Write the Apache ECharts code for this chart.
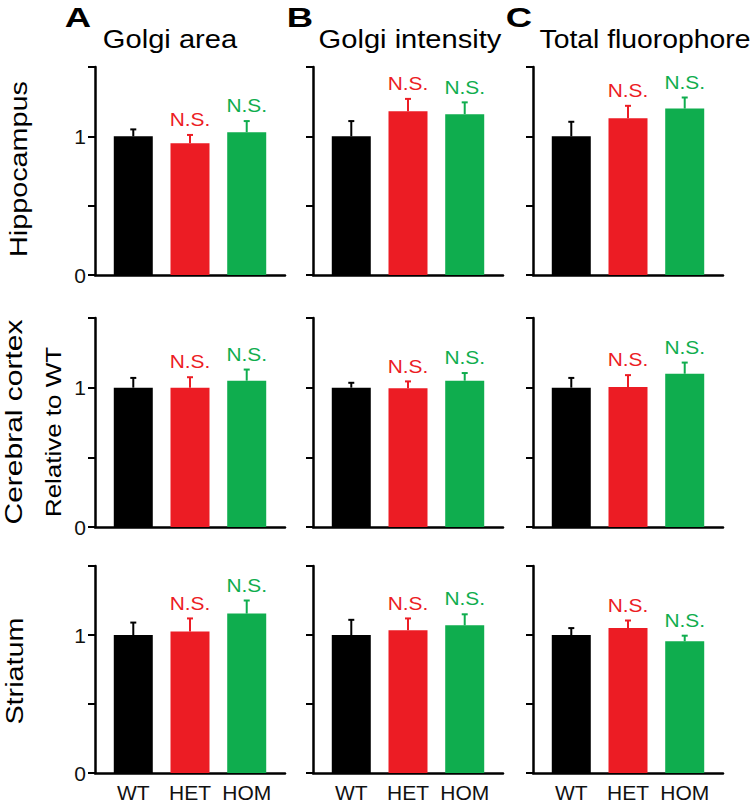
<!DOCTYPE html>
<html><head><meta charset="utf-8">
<script src="https://cdn.jsdelivr.net/npm/echarts@6/dist/echarts.min.js"></script>
<style>html,body{margin:0;padding:0;background:#fff}#c{width:755px;height:803px}</style>
</head><body><div id="c"></div>
<script>
const categories = ['WT', 'HET', 'HOM'];
const regionLabels = ['Hippocampus', 'Cerebral cortex', 'Striatum'];
const yAxisName = 'Relative to WT';
const measureTitles = ['Golgi area', 'Golgi intensity', 'Total fluorophore'];
const panelLetters = ['A', 'B', 'C'];
const yTickValues = [0, 0.5, 1, 1.5];
const yTickLabels = ['0', '', '1', ''];
const significance = ['', 'N.S.', 'N.S.'];

// Hippocampus
const hippocampusAreaMean = [1.00, 0.95, 1.03];
const hippocampusAreaSem = [0.05, 0.06, 0.08];
const hippocampusIntensityMean = [1.00, 1.18, 1.16];
const hippocampusIntensitySem = [0.11, 0.09, 0.085];
const hippocampusTotalMean = [1.00, 1.13, 1.20];
const hippocampusTotalSem = [0.105, 0.09, 0.08];
// Cerebral cortex
const cortexAreaMean = [1.00, 1.00, 1.05];
const cortexAreaSem = [0.07, 0.075, 0.08];
const cortexIntensityMean = [1.00, 0.995, 1.05];
const cortexIntensitySem = [0.035, 0.05, 0.055];
const cortexTotalMean = [1.00, 1.005, 1.10];
const cortexTotalSem = [0.07, 0.085, 0.08];
// Striatum
const striatumAreaMean = [1.00, 1.025, 1.155];
const striatumAreaSem = [0.09, 0.095, 0.095];
const striatumIntensityMean = [1.00, 1.035, 1.07];
const striatumIntensitySem = [0.11, 0.085, 0.08];
const striatumTotalMean = [1.00, 1.05, 0.955];
const striatumTotalSem = [0.05, 0.055, 0.04];

const meanRows = [
  [hippocampusAreaMean, hippocampusIntensityMean, hippocampusTotalMean],
  [cortexAreaMean, cortexIntensityMean, cortexTotalMean],
  [striatumAreaMean, striatumIntensityMean, striatumTotalMean]
];
const semRows = [
  [hippocampusAreaSem, hippocampusIntensitySem, hippocampusTotalSem],
  [cortexAreaSem, cortexIntensitySem, cortexTotalSem],
  [striatumAreaSem, striatumIntensitySem, striatumTotalSem]
];

const barColors = ['#000000', '#ec1c24', '#0fad4e'];
const FONT = '"Liberation Sans", Arial, Helvetica, sans-serif';
const gridLeft = [95, 313, 533];
const gridWidth = 190;
const gridTop = [67, 318, 566];
const gridHeight = [208, 209, 209];

const grids = [], xAxes = [], yAxes = [], series = [];
let k = 0;
for (let r = 0; r < 3; r++) {
  for (let c = 0; c < 3; c++) {
    grids.push({ left: gridLeft[c], top: gridTop[r], width: gridWidth, height: gridHeight[r], containLabel: false });
    xAxes.push({
      type: 'value', gridIndex: k, min: 0.325, max: 3.675,
      axisLine: { show: true, onZero: false, lineStyle: { color: '#000', width: 2.5 } },
      axisTick: { show: false },
      splitLine: { show: false },
      axisLabel: {
        show: r === 2, customValues: [1, 2, 3], margin: 9,
        formatter: v => categories[Math.round(v) - 1] || '',
        color: '#111', fontSize: 21, fontFamily: FONT
      }
    });
    yAxes.push({
      type: 'value', gridIndex: k, min: 0, max: 1.5, interval: 0.5,
      axisLine: { show: true, onZero: false, lineStyle: { color: '#000', width: 2.5 } },
      axisTick: { show: true, length: 7, lineStyle: { color: '#000', width: 2 } },
      splitLine: { show: false },
      axisLabel: {
        show: c === 0, margin: 9,
        formatter: v => { const i = yTickValues.indexOf(v); return i >= 0 ? yTickLabels[i] : ''; },
        color: '#111', fontSize: 21, fontFamily: FONT
      }
    });
    const means = meanRows[r][c], sems = semRows[r][c];
    series.push({
      type: 'bar', xAxisIndex: k, yAxisIndex: k, barWidth: 39, animation: false,
      data: means.map((v, i) => ({ value: [i + 1, v], itemStyle: { color: barColors[i] } }))
    });
    series.push({
      type: 'custom', xAxisIndex: k, yAxisIndex: k, animation: false, z: 5,
      data: means.map((v, i) => [i + 1, v, sems[i]]),
      renderItem: function (params, api) {
        const x = api.value(0), m = api.value(1), s = api.value(2);
        const i = params.dataIndex;
        const p0 = api.coord([x, m]);
        const p1 = api.coord([x, m + s]);
        const col = barColors[i];
        const children = [
          { type: 'line', shape: { x1: p0[0], y1: p0[1], x2: p1[0], y2: p1[1] }, style: { stroke: col, lineWidth: 2 } },
          { type: 'line', shape: { x1: p1[0] - 3, y1: p1[1], x2: p1[0] + 3, y2: p1[1] }, style: { stroke: col, lineWidth: 2 } }
        ];
        if (significance[i]) {
          children.push({
            type: 'text', x: p1[0], y: p1[1] - 6, scaleX: 1.1,
            style: { text: significance[i], fill: col, fontSize: 19, fontFamily: FONT, align: 'center', verticalAlign: 'bottom' }
          });
        }
        return { type: 'group', children };
      }
    });
    k++;
  }
}

const letterX = [78, 300, 519];
const titleX = [170, 410, 645];
const titleScale = [1.12, 1.12, 1.09];
const graphics = [];
for (let c = 0; c < 3; c++) {
  graphics.push({ type: 'text', x: letterX[c], y: 18, scaleX: 1.35,
    style: { text: panelLetters[c], fill: '#000', fontSize: 27, fontWeight: 'bold', fontFamily: FONT, align: 'center', verticalAlign: 'middle' } });
  graphics.push({ type: 'text', x: titleX[c], y: 39, scaleX: titleScale[c],
    style: { text: measureTitles[c], fill: '#000', fontSize: 26, fontFamily: FONT, align: 'center', verticalAlign: 'middle' } });
}
const rowLabelX = [19, 14, 15];
const rowLabelY = [169, 422, 671];
const rowLabelSize = [24, 24, 24];
const rowLabelScale = [1.2, 1.25, 1.2];
for (let r = 0; r < 3; r++) {
  graphics.push({ type: 'text', x: rowLabelX[r], y: rowLabelY[r], rotation: Math.PI / 2, scaleX: rowLabelScale[r],
    style: { text: regionLabels[r], fill: '#000', fontSize: rowLabelSize[r], fontFamily: FONT, align: 'center', verticalAlign: 'middle' } });
}
graphics.push({ type: 'text', x: 53, y: 432, rotation: Math.PI / 2, scaleX: 1.18,
  style: { text: yAxisName, fill: '#000', fontSize: 22, fontFamily: FONT, align: 'center', verticalAlign: 'middle' } });

const chart = echarts.init(document.getElementById('c'), null, { renderer: 'svg' });
chart.setOption({
  backgroundColor: '#fff',
  animation: false,
  grid: grids, xAxis: xAxes, yAxis: yAxes, series: series,
  graphic: graphics
});
</script></body></html>
